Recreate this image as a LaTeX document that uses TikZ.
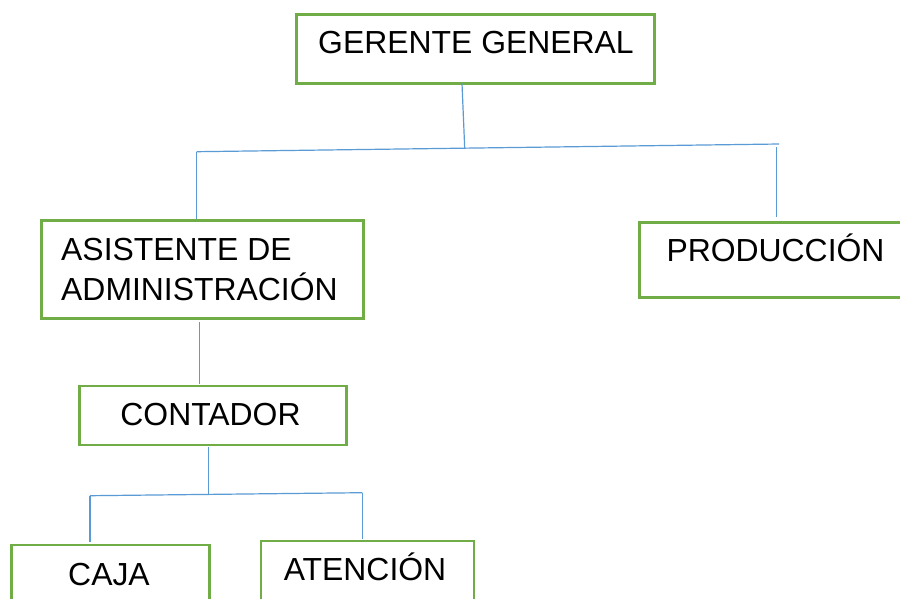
\documentclass[tikz,border=0pt]{standalone}
\usepackage{fontspec}
\setmainfont{Liberation Sans}
\definecolor{boxgreen}{HTML}{70AD47}
\definecolor{lineblue}{HTML}{5B9BD5}
\begin{document}
\begin{tikzpicture}[x=1pt,y=-1pt,
  box/.style={draw=boxgreen,line width=2.8pt,inner sep=0pt,anchor=north west},
  lbl/.style={inner sep=0pt,anchor=base,font=\fontsize{31.9}{40}\selectfont},
  conn/.style={draw=lineblue,line width=1.2pt}]
\useasboundingbox (0,0) rectangle (900,598);
\fill[white] (0,0) rectangle (900,598);
\clip (0,0) rectangle (900,598);
% boxes
\node[box,minimum width=358pt,minimum height=69pt] (ger) at (295,13) {};
\node[box,minimum width=322pt,minimum height=98pt] (asis) at (40,219) {};
\node[box,minimum width=290pt,minimum height=75pt] (prod) at (638,221) {};
\node[box,minimum width=267pt,minimum height=59pt] (cont) at (78,384.5) {};
\node[box,minimum width=198pt,minimum height=80pt] (caja) at (10,543.5) {};
\node[box,minimum width=213pt,minimum height=80pt] (aten) at (259.5,539.5) {};
% texts
\node[lbl] (gert) at (476,53.6) {GERENTE GENERAL};
\node[lbl,anchor=west,align=left] (asist) at (61,269.5) {ASISTENTE DE\\ADMINISTRACIÓN};
\node[lbl] (prodt) at (775.5,261.9) {PRODUCCIÓN};
\node[lbl] (contt) at (210.5,425.2) {CONTADOR};
\node[lbl] (cajat) at (109,585.2) {CAJA};
\node[lbl] (atent) at (365,580.2) {ATENCIÓN};
% junction coordinates
\coordinate (gout) at (462,83.5);
\coordinate (jm) at (464.7,148.2);
\coordinate (jl) at (196.6,151.7);
\coordinate (jr) at (779,144);
\coordinate (pin) at (776.7,216.7);
\coordinate (ptop) at (776.7,147.3);
\coordinate (aout) at (199.3,321.7);
\coordinate (cin) at (199.3,384);
\coordinate (cout) at (208.3,447);
\coordinate (km) at (208.3,495);
\coordinate (kl) at (90,495.7);
\coordinate (kr) at (362.3,492.7);
\coordinate (cajin) at (90,541.7);
\coordinate (atin) at (362.3,539.3);
% connectors
\draw[conn] (gout) -- (jm);
\draw[conn] (jl) -- (jr);
\draw[conn] (jl) -- (jl |- asis.north);
\draw[conn] (ptop) -- (pin);
\draw[conn] (aout) -- (cin);
\draw[conn] (cout) -- (km);
\draw[conn] (kl) -- (kr);
\draw[conn] (kl) -- (cajin);
\draw[conn] (kr) -- (atin);
\end{tikzpicture}
\end{document}
